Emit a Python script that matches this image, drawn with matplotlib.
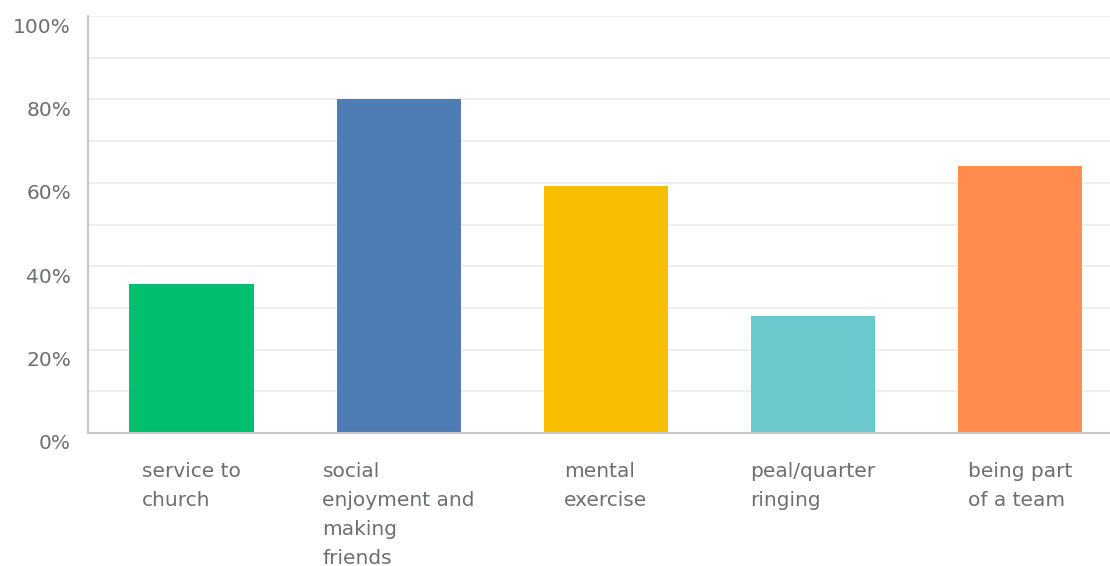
import matplotlib.pyplot as plt
import matplotlib.transforms as mtransforms
import numpy as np

categories = ["service to\nchurch", "social\nenjoyment and\nmaking\nfriends",
              "mental\nexercise", "peal/quarter\nringing", "being part\nof a team"]
values = [35.7, 80.0, 59.2, 28.1, 64.1]
colors = ["#00bf6f", "#507cb6", "#f9be00", "#6bc8cd", "#ff8b4f"]
yticks = [0, 20, 40, 60, 80, 100]
ytick_labels = ["0%", "20%", "40%", "60%", "80%", "100%"]

plt.rcParams['font.family'] = ['DejaVu Sans']
text_color = "#6b6e72"

fig = plt.figure(figsize=(11.1, 5.66), dpi=100)
ax = fig.add_axes([0.0793, 0.235, 0.933, 0.7367])

x = np.arange(len(categories))
ax.bar(x, values, width=0.6, color=colors, zorder=3)

ax.set_xlim(-0.5, len(categories) - 0.5)
ax.set_ylim(0, 100)

# light gridlines every 10%
for g in range(10, 101, 10):
    ax.axhline(g, color="#ececec", lw=1.2, zorder=1)

# y labels sit a little below their gridline
ax.set_yticks(yticks)
ax.set_yticklabels([])
ax.tick_params(axis='y', length=0)
trans = mtransforms.blended_transform_factory(ax.transAxes, ax.transData)
offset = mtransforms.ScaledTranslation(-0.17, -0.11, fig.dpi_scale_trans)
for v, t in zip(yticks, ytick_labels):
    ax.text(0, v, t, transform=trans + offset, ha='right', va='center',
            fontsize=14.5, color=text_color)

ax.set_xticks(x)
ax.set_xticklabels(categories, fontsize=14.5, color=text_color, linespacing=1.66)
for lbl in ax.get_xticklabels():
    lbl.set_multialignment('left')
ax.tick_params(axis='x', length=0, pad=21)

for side in ['top', 'right']:
    ax.spines[side].set_visible(False)
for side in ['left', 'bottom']:
    ax.spines[side].set_color("#c8c8c8")
    ax.spines[side].set_linewidth(1.5)
    ax.spines[side].set_zorder(4)

fig.savefig("out.png", dpi=100)
